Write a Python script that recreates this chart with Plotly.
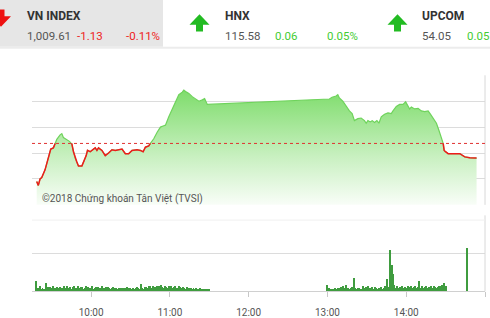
import plotly.graph_objects as go
from datetime import datetime, timedelta

DAY = "2018-06-01 "

# ---- main index line (VN-Index intraday) ----
times = ["09:18:35","09:19:49","09:21:07","09:22:25","09:24:56","09:27:28","09:29:17","09:31:17",
         "09:33:53","09:36:24","09:37:42","09:38:55","09:41:31","09:43:31","09:45:20","09:46:34",
         "09:47:52","09:49:10","09:50:23","09:52:59","09:54:13","09:56:16","09:57:16","09:59:20",
         "10:01:51","10:03:09","10:04:27","10:05:40","10:08:16","10:10:47","10:13:19","10:15:55",
         "10:18:26","10:20:58","10:23:34","10:26:05","10:28:36","10:31:12","10:35:01","10:37:33",
         "10:39:37","10:41:22","10:43:53","10:45:11","10:47:43","10:50:19","10:52:50","10:55:21",
         "10:56:39","10:59:10","11:01:46","11:04:18","11:06:49","11:09:25","11:10:38","11:12:42",
         "11:14:28","11:17:04","11:19:35","11:22:06","11:24:42","11:26:28","11:28:31",
         "13:01:28","13:03:31","13:05:17","13:06:35","13:07:53","13:09:06","13:11:42","13:14:13",
         "13:16:45","13:18:49","13:20:34","13:23:10","13:25:41","13:28:13","13:29:31","13:30:49",
         "13:32:34","13:34:06","13:35:52","13:37:41","13:39:13","13:40:59","13:43:30","13:46:06",
         "13:48:37","13:49:55","13:52:27","13:54:58","13:57:34","13:59:33","14:01:23","14:02:37",
         "14:03:55","14:06:26","14:09:02","14:11:33","14:14:04","14:16:40","14:18:26","14:20:29",
         "14:23:01","14:25:05","14:26:50","14:28:08","14:28:54","14:29:53","14:31:57","14:40:49",
         "14:44:38","14:48:28","14:53:35"]
index_values = [1007.8,1007.5,1008.0,1008.1,1008.7,1009.7,1010.3,1010.4,
                1011.05,1011.4,1011.5,1011.2,1011.05,1010.9,1010.7,1010.1,
                1009.6,1009.3,1009.0,1009.0,1009.3,1009.8,1010.2,1010.1,
                1010.3,1010.4,1010.2,1010.4,1010.2,1009.8,1010.0,1010.25,
                1010.2,1010.25,1010.3,1009.95,1009.95,1010.2,1010.25,1010.2,
                1010.1,1010.45,1010.55,1010.74,1011.1,1011.6,1012.0,1012.1,
                1012.15,1012.8,1013.4,1014.0,1014.5,1014.7,1014.85,1014.7,
                1014.6,1014.35,1014.2,1014.0,1014.1,1014.2,1013.75,
                1014.17,1014.3,1014.35,1014.4,1014.5,1014.25,1014.0,1013.6,
                1013.25,1013.05,1012.5,1012.65,1012.7,1012.5,1012.3,1012.5,
                1012.4,1012.5,1012.35,1012.5,1012.3,1012.8,1013.0,1013.1,
                1013.05,1013.25,1013.6,1013.75,1013.75,1013.95,1013.6,1013.4,
                1013.55,1013.4,1013.45,1013.25,1013.2,1013.25,1013.0,1012.65,
                1012.3,1011.7,1011.2,1010.75,1010.2,1010.1,1009.95,1009.95,
                1009.7,1009.63,1009.61]
REF = 1010.74

# ---- volume (thousand shares per minute) ----
morning_start = "09:18"
morning_vol = [250,90,70,120,60,80,60,50,200,110,90,100,80,120,90,70,100,80,110,60,
               90,130,80,70,120,90,100,60,110,140,80,90,120,70,100,110,60,90,130,80,
               100,70,90,120,60,80,110,100,70,90,120,60,80,100,70,110,90,60,80,100,
               70,90,60,80,50,70,90,60,80,110,60,90,70,50,80,60,90,100,70,60,
               190,80,60,100,110,90,130,120,90,140,110,100,130,90,120,150,100,80,130,110,
               90,140,100,120,80,110,130,90,70,120,100,80,110,90,60,100,80,70,90,60,
               80,50,70,60,40,70,50,60,40,50,30,40,30]
afternoon_start = "13:00"
afternoon_vol = [150,70,60,50,60,50,70,60,90,70,110,60,120,80,150,70,90,60,80,100,
                 350,80,60,90,70,50,60,130,70,110,60,120,90,70,100,60,110,80,60,90,
                 70,100,60,80,120,325,100,70,1090,690,435,150,90,120,70,100,80,130,90,110,
                 70,120,80,100,140,90,110,130,70,100,270,90,120,80,100,130,70,110,90,120,
                 80,130,100,90,110,140,120,150,130,210,120]
atc_time = "14:46"
atc_vol = 1130

# header quotes (UPCOM percentage is off the visible edge in the reference)
hdr_names = ["VN INDEX", "HNX", "UPCOM"]
hdr_values = ["1,009.61", "115.58", "54.05"]
hdr_changes = ["-1.13", "0.06", "0.05"]
hdr_pcts = ["-0.11%", "0.05%"]

W, H = 490, 318
def X(p): return p / W
def Y(p): return 1 - p / H

def ts(s):
    return datetime.strptime(DAY + s, "%Y-%m-%d %H:%M:%S" if s.count(":") == 2 else "%Y-%m-%d %H:%M")

tx = [ts(t) for t in times]

# red segments (below reference) with crossings
red_x, red_y = [], []
for i in range(len(tx)):
    y = index_values[i]
    if i > 0:
        y0 = index_values[i - 1]
        if (y0 - REF) * (y - REF) < 0:
            f = (REF - y0) / (y - y0)
            cx = tx[i - 1] + (tx[i] - tx[i - 1]) * f
            red_x.append(cx); red_y.append(REF)
            if y > REF:
                red_x.append(cx); red_y.append(None)
    red_x.append(tx[i]); red_y.append(y if y <= REF else None)

vx = [ts(morning_start) + timedelta(minutes=i) for i in range(len(morning_vol))]
vx += [ts(afternoon_start) + timedelta(minutes=i) for i in range(len(afternoon_vol))]
vx += [ts(atc_time)]
vy = morning_vol + afternoon_vol + [atc_vol]

fig = go.Figure()
fig.add_trace(go.Scatter(
    x=tx, y=index_values, mode="lines", fill="tozeroy",
    line=dict(color="#6fd35c", width=1.2),
    fillgradient=dict(type="vertical", start=1006, stop=1015,
                      colorscale=[[0, "rgba(255,255,255,1)"], [0.45, "#c8f0c0"], [1, "#7ddc6a"]]),
    xaxis="x", yaxis="y", hoverinfo="skip", showlegend=False))
fig.add_trace(go.Scatter(
    x=red_x, y=red_y, mode="lines", line=dict(color="#ee1b1b", width=1.5),
    connectgaps=False, xaxis="x", yaxis="y", hoverinfo="skip", showlegend=False))
fig.add_trace(go.Bar(
    x=vx, y=vy, marker=dict(color="#3f9c3f", line=dict(width=0)), width=45000,
    xaxis="x2", yaxis="y2", hoverinfo="skip", showlegend=False))

xr = [ts("09:15"), ts("15:00")]
ticks = [ts(t) for t in ["10:00", "11:00", "12:00", "13:00", "14:00", "15:00"]]

fig.update_layout(
    width=W, height=H, margin=dict(l=0, r=0, t=0, b=0),
    paper_bgcolor="white", plot_bgcolor="white",
    font=dict(family="Roboto, Liberation Sans, sans-serif"),
    bargap=0,
    xaxis=dict(domain=[X(32), X(485)], anchor="y", type="date", range=xr,
               showgrid=False, showticklabels=False, zeroline=False, showline=False,
               tickvals=ticks),
    yaxis=dict(domain=[Y(215), Y(79)], anchor="x", range=[1006, 1016],
               tickvals=[1006, 1008, 1010, 1012, 1014, 1016],
               showgrid=True, gridcolor="#dcdcdc", gridwidth=1,
               showticklabels=False, zeroline=False, showline=False),
    xaxis2=dict(domain=[X(32), X(485)], anchor="y2", type="date", range=xr,
                tickvals=ticks, tickformat="%H:%M", showgrid=False,
                ticks="outside", ticklen=5, tickcolor="#c8c8c8",
                ticklabelstandoff=7,
                showline=True, linecolor="#d0d0d0", linewidth=1,
                tickfont=dict(size=10, color="#555", family="Roboto"), zeroline=False),
    yaxis2=dict(domain=[Y(305.7), Y(226)], anchor="x2", range=[0, 2000],
                tickvals=[0, 1000, 2000], showgrid=True, gridcolor="#dcdcdc",
                showticklabels=False, zeroline=False, showline=False),
)

shapes = []
# header background and separator
shapes.append(dict(type="rect", xref="paper", yref="paper", x0=0, x1=X(163), y0=Y(49), y1=1,
                   fillcolor="#e6e6e6", line=dict(width=0), layer="below"))
shapes.append(dict(type="line", xref="paper", yref="paper", x0=0, x1=1, y0=Y(50), y1=Y(50),
                   line=dict(color="#ececec", width=2)))
# right borders
shapes.append(dict(type="line", xref="paper", yref="paper", x0=X(485), x1=X(485), y0=Y(215), y1=Y(79),
                   line=dict(color="#d8d8d8", width=1)))
shapes.append(dict(type="line", xref="paper", yref="paper", x0=X(485), x1=X(485), y0=Y(305.7), y1=Y(226),
                   line=dict(color="#d8d8d8", width=1)))
shapes.append(dict(type="line", xref="paper", yref="paper", x0=X(32), x1=X(485), y0=Y(231), y1=Y(231),
                   line=dict(color="#f0f0f0", width=1)))
# reference dotted line
shapes.append(dict(type="line", xref="x domain", yref="y", x0=0, x1=1, y0=REF, y1=REF,
                   line=dict(color="#e03030", width=1, dash="dot")))

def arrow(cx, top, bottom, up, color):
    hw, sw = 10, 3.5
    if up:
        head = top + 11
        pts = [(cx, top), (cx + hw, head), (cx + sw, head), (cx + sw, bottom),
               (cx - sw, bottom), (cx - sw, head), (cx - hw, head)]
    else:
        head = bottom - 11
        pts = [(cx, bottom), (cx + hw, head), (cx + sw, head), (cx + sw, top),
               (cx - sw, top), (cx - sw, head), (cx - hw, head)]
    path = "M " + " L ".join(f"{X(a):.5f},{Y(b):.5f}" for a, b in pts) + " Z"
    return dict(type="path", xref="paper", yref="paper", path=path,
                fillcolor=color, line=dict(width=0))

shapes.append(arrow(1, 10, 28, False, "#ee1111"))
shapes.append(arrow(199.5, 15, 33, True, "#22bb22"))
shapes.append(arrow(397.5, 15, 33, True, "#22bb22"))
fig.update_layout(shapes=shapes)

ann = []
def txt(x, y, s, size=11, color="#333", bold=False):
    ann.append(dict(x=X(x), y=Y(y), xref="paper", yref="paper", text=("<b>%s</b>" % s) if bold else s,
                    showarrow=False, xanchor="left", yanchor="middle",
                    font=dict(size=size, color=color, family="Roboto, sans-serif")))

name_x = [25, 223, 420]
chg_x = [75, 273, 465]
pct_x = [124, 325]
chg_colors = ["#ee2222", "#44cc33", "#44cc33"]
for i in range(3):
    txt(name_x[i], 17, hdr_names[i], size=12, color="#333", bold=True)
    txt(name_x[i], 38, hdr_values[i], size=11.5, color="#555")
    txt(chg_x[i], 38, hdr_changes[i], size=11.5, color=chg_colors[i])
for i in range(len(hdr_pcts)):
    txt(pct_x[i], 38, hdr_pcts[i], size=11.5, color=chg_colors[i])

ann.append(dict(x=X(40), y=Y(209), xref="paper", yref="paper", text="©2018 Chứng khoán Tân Việt (TVSI)",
                showarrow=False, xanchor="left", yanchor="middle",
                font=dict(size=10, color="#555", family="Roboto, sans-serif")))
fig.update_layout(annotations=ann)

fig.write_html("out.html")
